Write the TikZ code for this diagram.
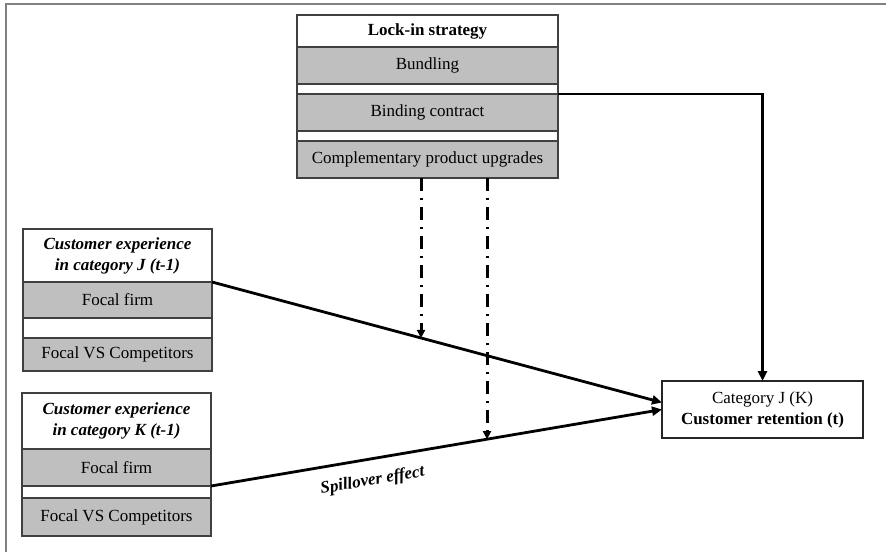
\documentclass[tikz,border=0pt]{standalone}
\usepackage{fontspec}
\setmainfont{Liberation Serif}
\usetikzlibrary{positioning,calc,arrows.meta,intersections}
\newcommand{\boxfont}{\fontsize{8.5}{10.5}\selectfont}
\tikzset{
	row/.style={draw=black!75, line width=0.8pt, fill=black!25, inner sep=0pt, outer sep=0pt, minimum height=18.5pt, font=\boxfont},
	head/.style={row, fill=white, align=center},
	link/.style={line width=1.4pt, -{Triangle[length=5pt,width=4.5pt]}},
	moder/.style={line width=1.5pt, dash pattern=on 6.5pt off 3.5pt on 1pt off 3.5pt, -{Triangle[length=4pt,width=4pt]}}
}

\begin{document}
\begin{tikzpicture}[x=0.5pt,y=-0.5pt]
			%%%%% START %%%%%
			\useasboundingbox (0,0) rectangle (886,552);
			\draw[line width=1pt, color=black!50] (6,552) -- (6,4) -- (886,4);
			
			% lock-in strategy
			\node[head, minimum width=130.5pt, minimum height=16pt, font=\boxfont\bfseries] (lock) at (427.5,31) {Lock-in strategy};
			\node[row, minimum width=130.5pt, below=0pt of lock] (bundling) {Bundling};
			\node[row, minimum width=130.5pt, below=5pt of bundling] (binding) {Binding contract};
			\node[row, minimum width=130.5pt, below=5pt of binding] (compl) {Complementary product upgrades};
			\draw[line width=0.8pt, color=black!75] (lock.north west) rectangle (compl.south east);
			
			% category J
			\node[head, minimum width=94.5pt, minimum height=26.5pt, font=\boxfont\bfseries\itshape] (jhead) at (117.5,255.5) {Customer experience\\in category J (t-1)};
			\node[row, minimum width=94.5pt, minimum height=18pt, below=0pt of jhead] (jfirm) {Focal firm};
			\node[row, minimum width=94.5pt, minimum height=16.5pt, below=10pt of jfirm] (jcomp) {Focal VS Competitors};
			\draw[line width=0.8pt, color=black!75] (jhead.north west) rectangle (jcomp.south east);
			
			% category K
			\node[head, minimum width=94.5pt, minimum height=28pt, font=\boxfont\bfseries\itshape] (khead) at (116.5,421) {Customer experience\\in category K (t-1)};
			\node[row, minimum width=94.5pt, minimum height=18.5pt, below=0pt of khead] (kfirm) {Focal firm};
			\node[row, minimum width=94.5pt, minimum height=19pt, below=6pt of kfirm] (kcomp) {Focal VS Competitors};
			\draw[line width=0.8pt, color=black!75] (khead.north west) rectangle (kcomp.south east);
			
			% outcome
			\node[head, minimum width=100.5pt, minimum height=28.5pt, line width=1pt, draw=black!85] (ret) at (762.5,409.5) {Category J (K)\\\textbf{Customer retention (t)}};
			
			\draw[link, name path=jpath] (jhead.south east) -- ([yshift=3.5pt]ret.west);
			\draw[link, name path=kpath] (kfirm.south east) -- (ret.west)
				node[pos=0.35, sloped, below=3pt, font=\boxfont\bfseries\itshape] (spill) {Spillover effect};
			\draw[link] (binding.north east) -| (ret.north);
			
			% moderation
			\coordinate (d1) at ($(compl.south west)+(62pt,0)$);
			\coordinate (d2) at ($(compl.south west)+(95pt,0)$);
			\path[name path=m1] (d1) -- +(0,-300pt);
			\path[name path=m2] (d2) -- +(0,-300pt);
			\path[name intersections={of=m1 and jpath, by=mj}];
			\path[name intersections={of=m2 and kpath, by=mk}];
			\draw[moder] (d1) -- (mj);
			\draw[moder] (d2) -- (mk);
			%%%%% END %%%%%
\end{tikzpicture}
\end{document}
